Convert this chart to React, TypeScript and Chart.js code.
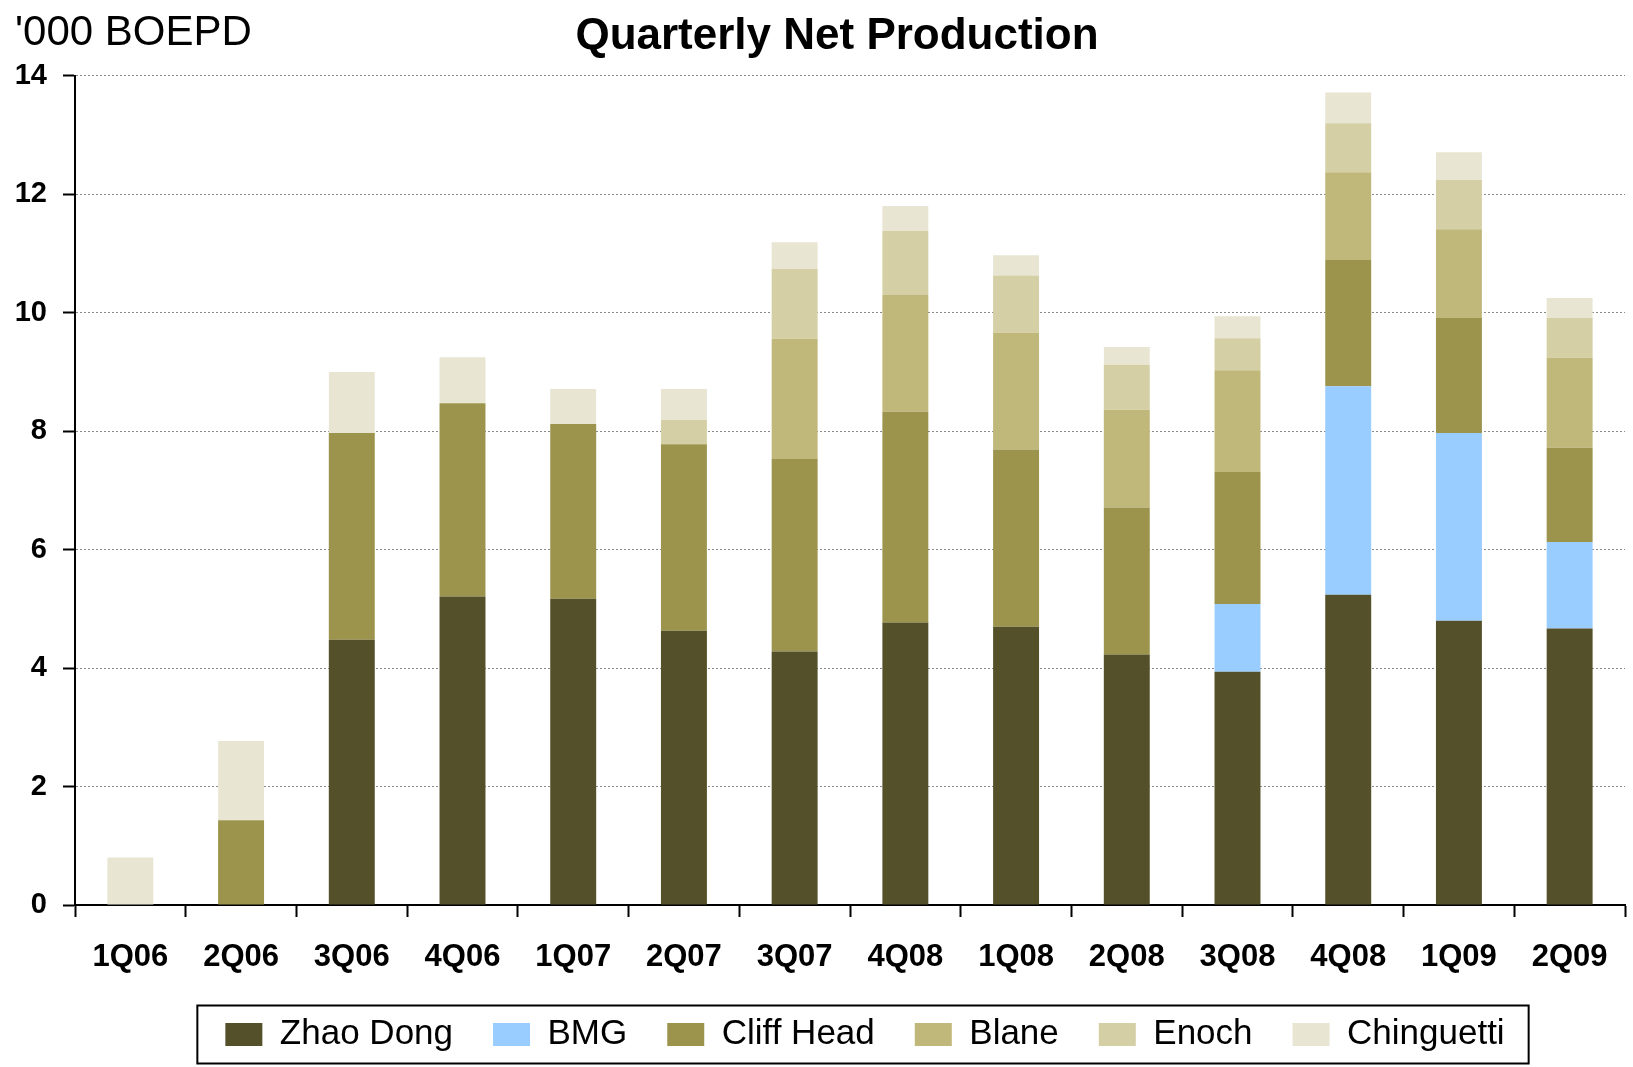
import React, { useEffect, useRef } from 'react';
import { Chart, registerables } from 'chart.js';

Chart.register(...registerables);

const FONT = "'Liberation Sans', Arial, Helvetica, sans-serif";

const categories = ['1Q06', '2Q06', '3Q06', '4Q06', '1Q07', '2Q07', '3Q07', '4Q08', '1Q08', '2Q08', '3Q08', '4Q08', '1Q09', '2Q09'];

const zhaoDong = [0, 0, 4.48, 5.21, 5.17, 4.63, 4.28, 4.77, 4.70, 4.23, 3.94, 5.24, 4.80, 4.67];
const bmg = [0, 0, 0, 0, 0, 0, 0, 0, 0, 0, 1.14, 3.52, 3.17, 1.46];
const cliffHead = [0, 1.43, 3.49, 3.26, 2.95, 3.15, 3.25, 3.56, 2.99, 2.48, 2.23, 2.13, 1.94, 1.59];
const blane = [0, 0, 0, 0, 0, 0, 2.03, 1.97, 1.97, 1.65, 1.72, 1.48, 1.50, 1.52];
const enoch = [0, 0, 0, 0, 0, 0.41, 1.18, 1.08, 0.97, 0.76, 0.54, 0.83, 0.83, 0.67];
const chinguetti = [0.80, 1.34, 1.03, 0.78, 0.59, 0.52, 0.45, 0.42, 0.34, 0.30, 0.37, 0.52, 0.47, 0.34];

const seriesNames = ['Zhao Dong', 'BMG', 'Cliff Head', 'Blane', 'Enoch', 'Chinguetti'];
const seriesValues = [zhaoDong, bmg, cliffHead, blane, enoch, chinguetti];
const seriesColors = ['#545029', '#99CCFF', '#9C944C', '#C0B87A', '#D5CFA5', '#E8E6D2'];

const yMin = 0;
const yMax = 14;
const yStep = 2;

const titleText = 'Quarterly Net Production';
const unitText = "'000 BOEPD";

export default function App() {
  const ref = useRef<HTMLCanvasElement>(null);

  useEffect(() => {
    if (!ref.current) return;

    const unitLabel = {
      id: 'unitLabel',
      afterDraw(chart: any) {
        const ctx = chart.ctx;
        ctx.save();
        ctx.font = `42px ${FONT}`;
        ctx.fillStyle = '#000';
        ctx.textAlign = 'left';
        ctx.textBaseline = 'middle';
        ctx.fillText(unitText, 15, 33);
        ctx.restore();
      },
    };

    // nudge title and legend boxes horizontally to match the reference placement
    const boxNudge = {
      id: 'boxNudge',
      afterLayout(chart: any) {
        const t = chart.titleBlock;
        if (t) {
          t.left -= 13;
          t.right -= 13;
        }
        const lg = chart.legend;
        if (lg) {
          lg.left += 15;
          lg.right += 15;
        }
      },
    };

    const legendBorder = {
      id: 'legendBorder',
      afterDraw(chart: any) {
        const lg = chart.legend;
        if (!lg || !lg.legendHitBoxes || !lg.legendHitBoxes.length) return;
        const boxes = lg.legendHitBoxes;
        const left = Math.min(...boxes.map((b: any) => b.left));
        const right = Math.max(...boxes.map((b: any) => b.left + b.width));
        const cy = boxes[0].top + boxes[0].height / 2;
        const ctx = chart.ctx;
        ctx.save();
        ctx.strokeStyle = '#000';
        ctx.lineWidth = 2;
        ctx.strokeRect(left - 28, cy - 29, right - left + 52, 58);
        ctx.restore();
      },
    };

    const chart = new Chart(ref.current, {
      type: 'bar',
      data: {
        labels: categories,
        datasets: seriesNames.map((name, i) => ({
          label: name,
          data: seriesValues[i],
          backgroundColor: seriesColors[i],
          borderWidth: 0,
          barPercentage: 0.415,
          categoryPercentage: 1,
        })),
      },
      options: {
        responsive: false,
        devicePixelRatio: 1,
        animation: false,
        layout: { padding: { left: 0, right: 8, top: 0, bottom: 5 } },
        plugins: {
          title: {
            display: true,
            text: titleText,
            fullSize: false,
            color: '#000',
            font: { family: FONT, size: 44, weight: 'bold', lineHeight: 1.2 },
            padding: { top: 10, bottom: 13 },
          },
          legend: {
            display: true,
            position: 'bottom',
            fullSize: false,
            labels: {
              color: '#000',
              font: { family: FONT, size: 35 },
              boxWidth: 37,
              boxHeight: 23,
              padding: 40,
            },
          },
          tooltip: { enabled: false },
        },
        scales: {
          x: {
            stacked: true,
            offset: true,
            grid: {
              display: true,
              drawOnChartArea: false,
              drawTicks: true,
              offset: true,
              tickLength: 12,
              tickColor: '#000',
              tickWidth: 2,
              color: '#000',
            },
            border: { display: true, color: '#000', width: 2 },
            ticks: {
              color: '#000',
              font: { family: FONT, size: 31, weight: 'bold' },
              padding: 22,
              maxRotation: 0,
              autoSkip: false,
            },
            afterFit(scale: any) {
              scale.height = 72;
            },
          },
          y: {
            stacked: true,
            min: yMin,
            max: yMax,
            grid: {
              display: true,
              color: '#8a8a8a',
              lineWidth: 1,
              drawTicks: true,
              tickLength: 12,
              tickColor: '#000',
              tickWidth: 2,
            },
            border: { display: true, color: '#000', width: 2, dash: [2, 2] },
            ticks: {
              stepSize: yStep,
              color: '#000',
              font: { family: FONT, size: 29, weight: 'bold' },
              padding: 16,
            },
            afterFit(scale: any) {
              scale.width = 75;
            },
          },
        },
      },
      plugins: [boxNudge, unitLabel, legendBorder],
    });

    return () => chart.destroy();
  }, []);

  return (
    <div style={{ position: 'absolute', left: 0, top: 0, width: 1633, height: 1067, background: '#fff' }}>
      <canvas ref={ref} width={1633} height={1067} style={{ display: 'block', width: 1633, height: 1067 }} />
    </div>
  );
}
